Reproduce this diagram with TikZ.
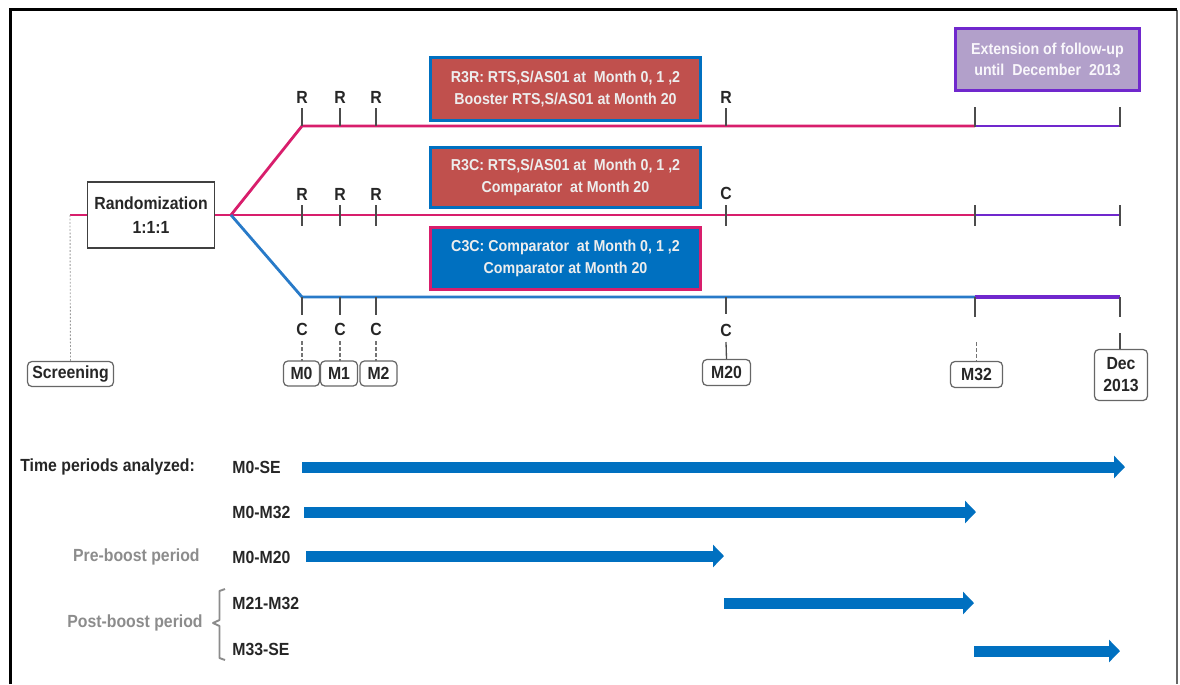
\documentclass[tikz,border=0pt]{standalone}
\usepackage{fontspec}
\setmainfont[FakeStretch=0.9]{Liberation Sans}
\usetikzlibrary{arrows.meta}
\definecolor{pinkl}{RGB}{216,30,108}
\definecolor{bluel}{RGB}{40,122,200}
\definecolor{purpl}{RGB}{112,40,205}
\definecolor{boxred}{RGB}{192,80,77}
\definecolor{boxblue}{RGB}{0,112,192}
\definecolor{lav}{RGB}{178,160,202}
\definecolor{arrblue}{RGB}{0,112,192}
\definecolor{txtdark}{RGB}{38,38,38}
\definecolor{txtgray}{RGB}{140,140,140}
\tikzset{
  lbl/.style={inner sep=0, text=txtdark, font=\bfseries\fontsize{10}{12}\selectfont},
  graylbl/.style={inner sep=0, text=txtgray, font=\bfseries\fontsize{10}{12}\selectfont},
  pinkline/.style={draw=pinkl, line width=1.6pt},
  blueline/.style={draw=bluel, line width=1.6pt},
  purline/.style={draw=purpl, line width=1.6pt},
  tickline/.style={draw=black!70, line width=0.75pt},
  dashtick/.style={draw=black!55, line width=0.6pt, dash pattern=on 2pt off 1.5pt},
  armbox/.style={draw, line width=1.6pt, minimum width=5.4cm, inner sep=0, align=center,
    text=white!93!black, font=\bfseries\fontsize{9}{12.5}\selectfont},
  tbox/.style={draw=black!60, line width=0.7pt, rounded corners=2.5pt, fill=white,
    inner sep=0, minimum height=0.5cm, text=txtdark, align=center,
    font=\bfseries\fontsize{10}{12.5}\selectfont},
  bigarrow/.style={draw=arrblue, line width=0.22cm, -{Triangle[length=0.22cm, width=0.44cm]}},
}
\begin{document}
\begin{tikzpicture}[x=0.02cm, y=-0.02cm]
\useasboundingbox (0,0) rectangle (1180,684);
% frame
\coordinate (fbl) at (10.5,684);
\coordinate (ftl) at (10.5,9.5);
\coordinate (ftr) at (1177,9.5);
\coordinate (fbr) at (1177,684);
\draw[black!60, line width=0.6pt] (ftr) -- (fbr);
\draw[black, line width=2.2pt] (fbl) -- (ftl) -- (ftr);

% nodes
\node[draw=black!75, line width=0.8pt, minimum width=2.54cm, minimum height=1.32cm,
  align=center, text=txtdark, font=\bfseries\fontsize{10}{14}\selectfont] (rand) at (151,215)
  {Randomization\\1:1:1};
\node[tbox, minimum width=1.72cm] (scr) at (70.5,374) {Screening};
\node[tbox, minimum width=0.72cm] (m0) at (301.5,373.5) {M0};
\node[tbox, minimum width=0.74cm] (m1) at (339,373.5) {M1};
\node[tbox, minimum width=0.74cm] (m2) at (378.5,373.5) {M2};
\node[tbox, minimum width=0.96cm, minimum height=0.52cm] (m20) at (726.5,372.5) {M20};
\node[tbox, minimum width=1.04cm, minimum height=0.52cm] (m32) at (976.5,374.5) {M32};
\node[tbox, minimum width=1.06cm, minimum height=1.02cm] (dec) at (1121,375) {Dec\\2013};

\node[armbox, draw=boxblue, fill=boxred, minimum height=1.26cm] (r3r) at (565.5,89)
  {R3R: RTS,S/AS01 at\ \ Month 0, 1 ,2\\Booster RTS,S/AS01 at Month 20};
\node[armbox, draw=boxblue, fill=boxred, minimum height=1.2cm] (r3c) at (565.5,177.5)
  {R3C: RTS,S/AS01 at\ \ Month 0, 1 ,2\\Comparator\ \ at Month 20};
\node[armbox, draw=pinkl, fill=boxblue, minimum height=1.24cm] (c3c) at (565.5,258.5)
  {C3C: Comparator\ \ at Month 0, 1 ,2\\Comparator at Month 20};
\node[draw=purpl, line width=1.8pt, fill=lav, minimum width=3.68cm, minimum height=1.24cm,
  inner sep=0, align=center, text=white!92!lav, font=\bfseries\fontsize{9}{12}\selectfont] (ext)
  at (1047.5,59.5) {Extension of follow-up\\until\ \ December\ \ 2013};

% main lines
\coordinate (st) at (70,215);
\coordinate (br) at (231,215);
\coordinate (tk) at (302,126);
\coordinate (te) at (975,126);
\coordinate (tf) at (1120,126);
\coordinate (me) at (975,215);
\coordinate (mf) at (1120,215);
\coordinate (bk) at (302,297);
\coordinate (be) at (975,297);
\coordinate (bf) at (1120,297);
\draw[pinkline] (st) -- (rand.west);
\draw[pinkline] (rand.east) -- (br);
\draw[pinkline, line join=round] (br) -- (tk) -- (te);
\draw[purline] (te) -- (tf);
\draw[pinkline] (br) -- (me);
\draw[purline] (me) -- (mf);
\draw[blueline, line join=round] (br) -- (bk) -- (be);
\draw[purline, line width=2.1pt] (be) -- (bf);

% screening dotted
\draw[black!40, line width=0.5pt, dash pattern=on 1pt off 1pt] (st) -- (scr.north);

% top line ticks
\foreach \x/\n in {302/a,340/b,376/c,726/d}{
  \node[lbl] (tR\n) at (\x,97) {R};
  \draw[tickline] (\x,108) -- (\x,126);
}
\foreach \x in {975,1120}{ \draw[tickline] (\x,107) -- (\x,127); }
% middle line ticks
\foreach \x/\n in {302/a,340/b,376/c}{
  \node[lbl] (mR\n) at (\x,194) {R};
  \draw[tickline] (\x,205) -- (\x,226);
}
\node[lbl] (mC) at (726,193) {C};
\draw[tickline] (726,205) -- (726,226);
\foreach \x in {975,1120}{ \draw[tickline] (\x,205) -- (\x,226); }
% bottom line ticks
\foreach \x/\m in {302/m0,340/m1,376/m2}{
  \node[lbl] (bC\m) at (\x,329) {C};
  \draw[tickline] (\x,297) -- (\x,315);
  \coordinate (bd\m) at (\x,341);
  \draw[dashtick] (bd\m) -- (\x,361);
}
\node[lbl] (bCm20) at (726,330) {C};
\draw[tickline] (726,297) -- (726,314);
\coordinate (c20) at (726,342);
\draw[tickline] (c20) -- (m20.north);
\draw[tickline] (975,297) -- (975,317);
\coordinate (c32) at (976.5,342);
\draw[dashtick] (c32) -- (m32.north);
\draw[tickline] (1120,297) -- (1120,317);
\coordinate (cdec) at (1120,333);
\draw[tickline] (cdec) -- (1120,349);

% time periods
\node[lbl, anchor=west] (tpa) at (20,467) {Time periods analyzed:};
\node[lbl, anchor=west] (l1) at (232,467) {M0-SE};
\node[lbl, anchor=west] (l2) at (232,512) {M0-M32};
\node[graylbl, anchor=east] (pre) at (200,557) {Pre-boost period};
\node[lbl, anchor=west] (l3) at (232,557) {M0-M20};
\node[lbl, anchor=west] (l4) at (232,603) {M21-M32};
\node[lbl, anchor=west] (l5) at (232,649) {M33-SE};
\node[graylbl, anchor=east] (post) at (203,623) {Post-boost period};
\draw[txtgray, line width=1.1pt, line join=round] (225,589) -- (219.5,591) -- (219.5,620) -- (213,623)
  -- (219.5,626) -- (219.5,658) -- (225,660);

\coordinate (a1s) at (302,467); \coordinate (a1e) at (1125,467);
\coordinate (a2s) at (304,512); \coordinate (a2e) at (976,512);
\coordinate (a3s) at (306,556); \coordinate (a3e) at (724,556);
\coordinate (a4s) at (724,603); \coordinate (a4e) at (974,603);
\coordinate (a5s) at (974,651); \coordinate (a5e) at (1120,651);
\draw[bigarrow] (a1s) -- (a1e);
\draw[bigarrow] (a2s) -- (a2e);
\draw[bigarrow] (a3s) -- (a3e);
\draw[bigarrow] (a4s) -- (a4e);
\draw[bigarrow] (a5s) -- (a5e);
\end{tikzpicture}
\end{document}
